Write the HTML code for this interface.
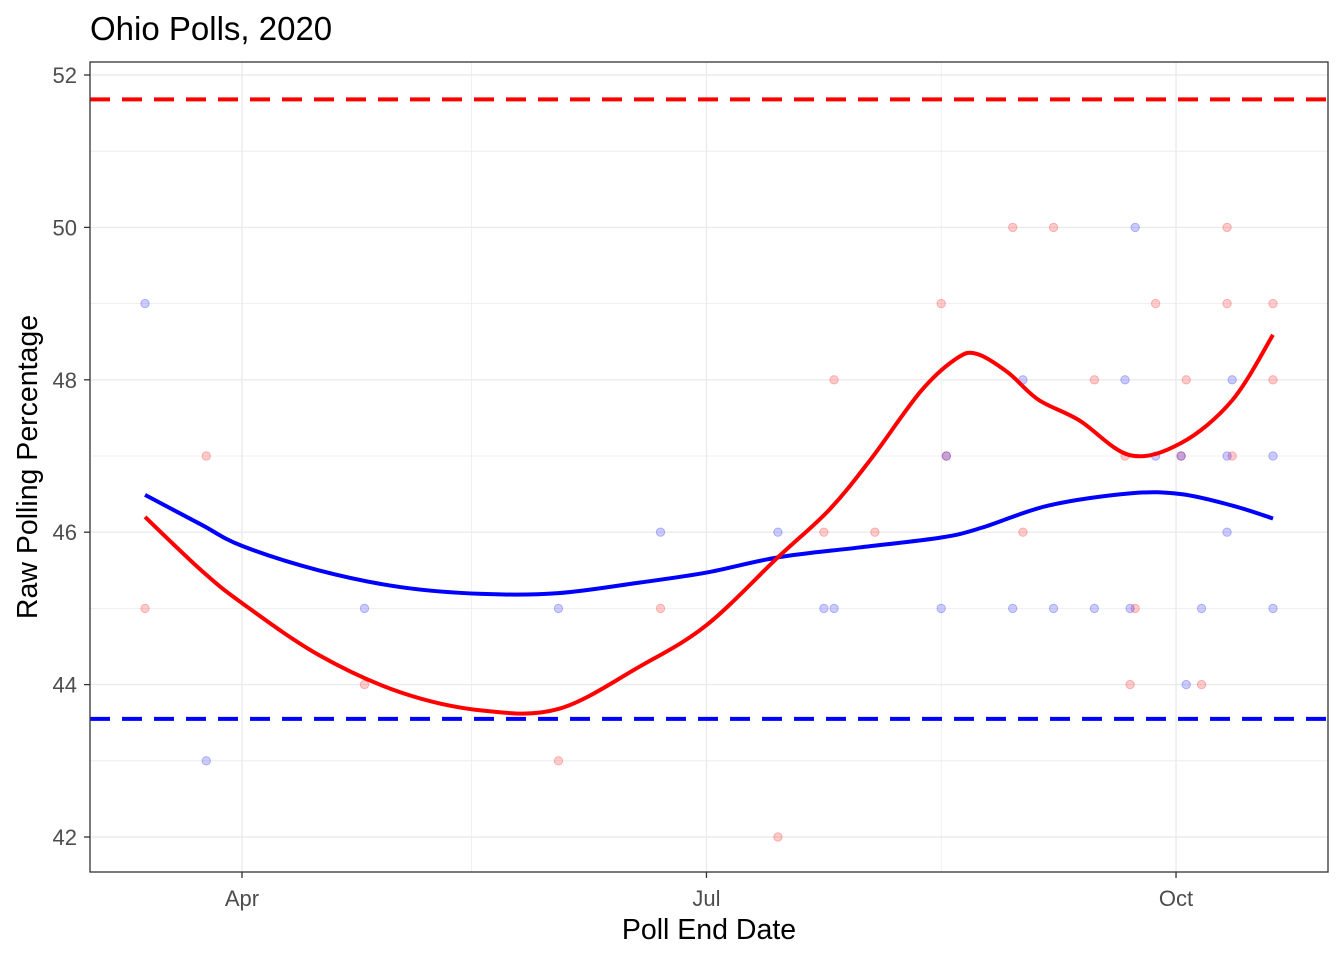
<!DOCTYPE html>
<html><head><meta charset="utf-8"><style>
body{margin:0;background:#fff;font-family:"Liberation Sans",Arial,sans-serif}
</style></head><body>
<svg id="chart" width="1344" height="960" xmlns="http://www.w3.org/2000/svg">
<rect width="1344" height="960" fill="#fff"/>
<text x="90" y="40" font-size="33" fill="#000">Ohio Polls, 2020</text>
<g id="grid"></g>
<g id="marks"></g>
<rect x="90" y="62" width="1238" height="810" fill="none" stroke="#333" stroke-width="1.3"/>
<g id="axes"></g>
<text x="709" y="939" font-size="28.5" text-anchor="middle">Poll End Date</text>
<text transform="translate(37,467) rotate(-90)" font-size="28.5" text-anchor="middle">Raw Polling Percentage</text>
</svg>
<script>
const redDays=[73,85,116,154,174,197,206,208,216,229,230,243,245,251,259,265,266,267,271,276,277,280,285,285,286,294,294];
const redVals=[45,47,44,43,45,42,46,48,46,49,47,50,46,50,48,47,44,45,49,47,48,44,50,49,47,49,48];
const blueDays=[73,85,116,154,174,197,206,208,229,230,243,245,251,259,265,266,267,271,276,277,280,285,285,286,294,294];
const blueVals=[49,43,45,45,46,46,45,45,45,47,45,48,45,45,48,45,50,47,47,44,45,47,46,48,47,45];
const redSmoothDays=[73,84,92,107,123,139,154,170,183,197,207,215,225,232,236,242,248,256,266,276,286,294];
const redSmoothVals=[46.2,45.5,45.07,44.39,43.9,43.66,43.68,44.24,44.78,45.67,46.29,46.94,47.85,48.28,48.34,48.1,47.74,47.47,47.01,47.17,47.73,48.59];
const blueSmoothDays=[73,84,92,107,123,139,154,170,183,197,213,229,237,250,266,276,286,294];
const blueSmoothVals=[46.49,46.1,45.82,45.5,45.28,45.19,45.2,45.34,45.47,45.67,45.8,45.93,46.06,46.35,46.51,46.5,46.35,46.18];
const redActual=51.68, blueActual=43.55;
const yTicks=[42,44,46,48,50,52];
const xTickDays=[92,183,275];
const xTickLabels=["Apr","Jul","Oct"];
const xMinorDays=[137,229];

const X=d=>242+(d-92)*5.104;
const Y=v=>837-(v-42)*76.2;
const NS="http://www.w3.org/2000/svg";
function mk(tag,attrs,parent){const e=document.createElementNS(NS,tag);for(const k in attrs)e.setAttribute(k,attrs[k]);parent.appendChild(e);return e;}
const grid=document.getElementById('grid'),marks=document.getElementById('marks'),axes=document.getElementById('axes');
for(let v=42;v<=52;v++){const l=mk('line',{x1:90,x2:1328,y1:Y(v),y2:Y(v),stroke:'#ebebeb','stroke-width':v%2?0.8:1.4},grid);

}
xMinorDays.forEach(d=>{const l=mk('line',{x1:X(d),x2:X(d),y1:62,y2:872,stroke:'#ebebeb','stroke-width':0.8},grid);

});
xTickDays.forEach((d,i)=>{const l=mk('line',{x1:X(d),x2:X(d),y1:62,y2:872,stroke:'#ebebeb','stroke-width':1.4},grid);


const t=mk('line',{x1:X(d),x2:X(d),y1:872,y2:878,stroke:'#333','stroke-width':1.3},axes);


const tx=mk('text',{x:X(d),y:906,'font-size':22,fill:'#4d4d4d','text-anchor':'middle'},axes);tx.textContent=xTickLabels[i];

});
yTicks.forEach(v=>{const t=mk('line',{x1:84,x2:90,y1:Y(v),y2:Y(v),stroke:'#333','stroke-width':1.3},axes);


const tx=mk('text',{x:77,y:Y(v)+8,'font-size':22,fill:'#4d4d4d','text-anchor':'end'},axes);tx.textContent=v;

});
redDays.forEach((d,i)=>{const c=mk('circle',{cx:X(d),cy:Y(redVals[i]),r:4.2,fill:'rgba(255,0,0,0.2)',stroke:'rgba(255,0,0,0.25)'},marks);

});
blueDays.forEach((d,i)=>{const c=mk('circle',{cx:X(d),cy:Y(blueVals[i]),r:4.2,fill:'rgba(0,0,255,0.2)',stroke:'rgba(0,0,255,0.25)'},marks);

});
function smooth(ds,vs){const p=ds.map((d,i)=>[X(d),Y(vs[i])]);let s=`M${p[0][0]},${p[0][1]}`;
for(let i=0;i<p.length-1;i++){const p0=p[i-1]||p[i],p1=p[i],p2=p[i+1],p3=p[i+2]||p2;
s+=` C${p1[0]+(p2[0]-p0[0])/6},${p1[1]+(p2[1]-p0[1])/6} ${p2[0]-(p3[0]-p1[0])/6},${p2[1]-(p3[1]-p1[1])/6} ${p2[0]},${p2[1]}`;}return s;}
const rl=mk('line',{x1:90,x2:1328,y1:Y(redActual),y2:Y(redActual),stroke:'#f00','stroke-width':4,'stroke-dasharray':'20,12'},marks);


const bl=mk('line',{x1:90,x2:1328,y1:Y(blueActual),y2:Y(blueActual),stroke:'#00f','stroke-width':4,'stroke-dasharray':'20,12'},marks);


const bs=mk('path',{d:smooth(blueSmoothDays,blueSmoothVals),fill:'none',stroke:'#00f','stroke-width':4},marks);


const rs=mk('path',{d:smooth(redSmoothDays,redSmoothVals),fill:'none',stroke:'#f00','stroke-width':4},marks);


</script>
</body></html>
